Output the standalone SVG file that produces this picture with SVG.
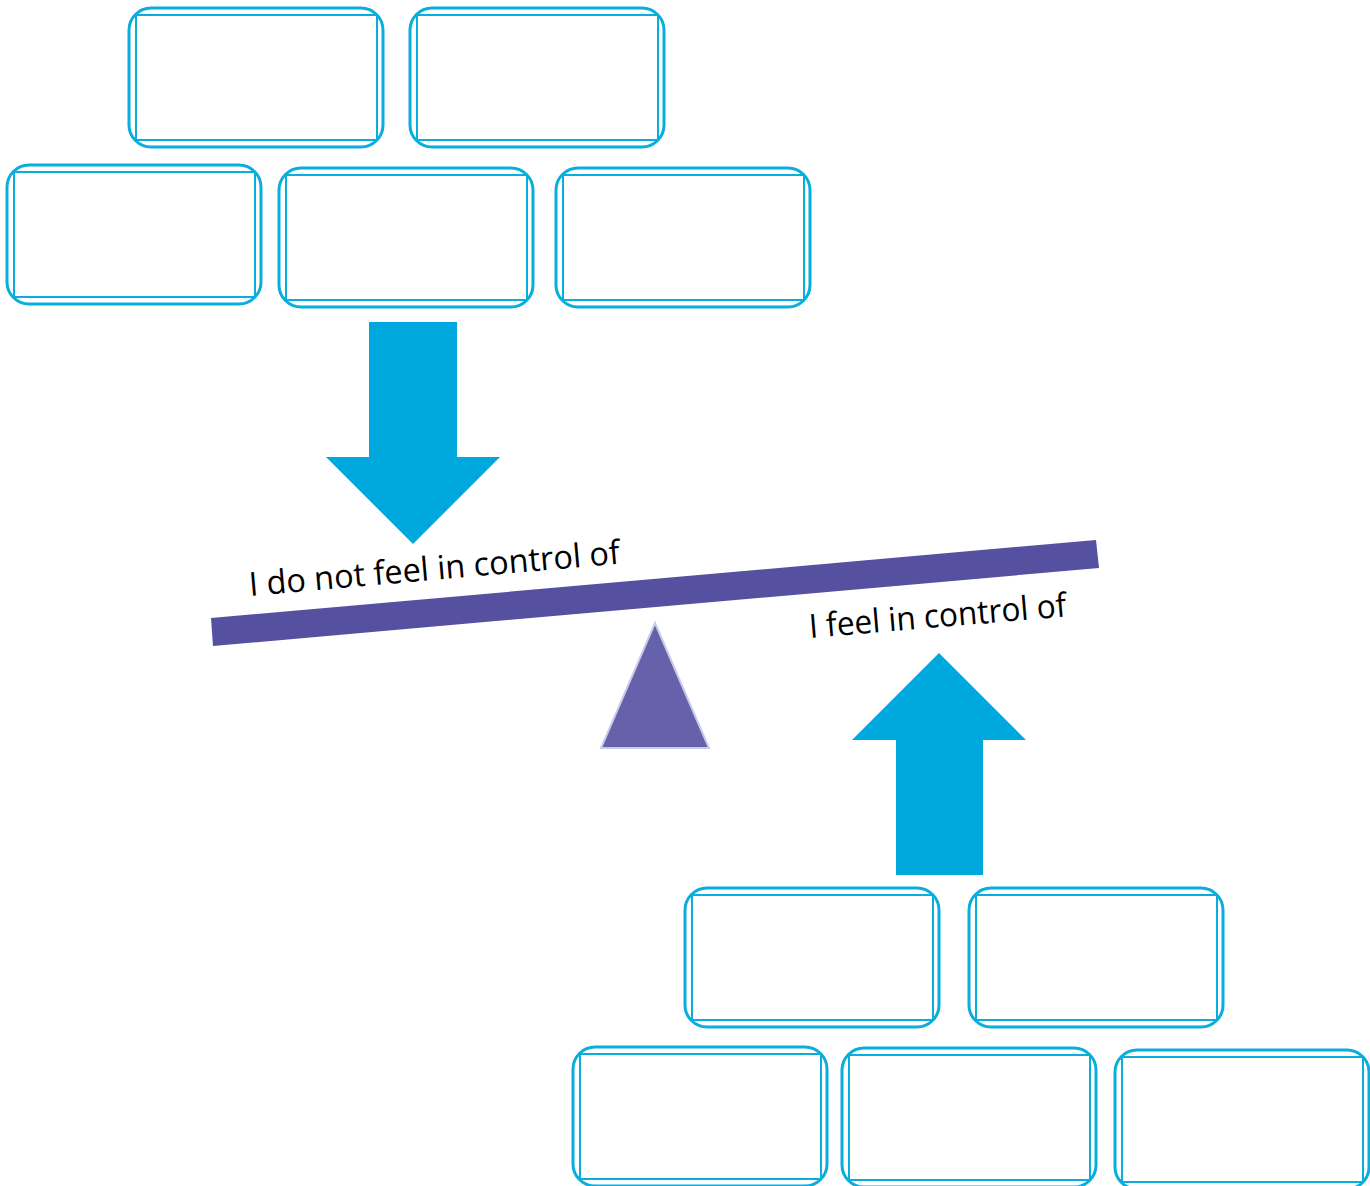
<svg xmlns="http://www.w3.org/2000/svg" width="1370" height="1186" viewBox="0 0 1370 1186">
  <style>
    .outer { fill: #ffffff; stroke: #0aaedd; stroke-width: 3; }
    .inner { fill: none; stroke: #0aaedd; stroke-width: 2; }
    .arrow { fill: #00a9dd; }
    .label { font-family: "Open Sans", "Liberation Sans", sans-serif; font-size: 33px; fill: #000000; }
  </style>
  <defs>
    <clipPath id="box-clip">
      <rect x="0" y="0" width="254" height="139" rx="22" ry="22"/>
    </clipPath>
    <!-- a double-lined box: rounded outer frame with square inner lines running to the frame -->
    <g id="box">
      <rect class="outer" x="0" y="0" width="254" height="139" rx="22" ry="22"/>
      <g clip-path="url(#box-clip)">
        <path class="inner" d="M -5 7 H 259 M -5 132 H 259 M 7 -5 V 144 M 248 -5 V 144"/>
      </g>
    </g>
  </defs>

  <!-- top group of boxes -->
  <g id="box-top-1"><use href="#box" x="129" y="8"/></g>
  <g id="box-top-2"><use href="#box" x="410" y="8"/></g>
  <g id="box-top-3"><use href="#box" x="7" y="165"/></g>
  <g id="box-top-4"><use href="#box" x="279" y="168"/></g>
  <g id="box-top-5"><use href="#box" x="556" y="168"/></g>

  <!-- bottom group of boxes -->
  <g id="box-bottom-1"><use href="#box" x="685" y="888"/></g>
  <g id="box-bottom-2"><use href="#box" x="969" y="888"/></g>
  <g id="box-bottom-3"><use href="#box" x="573" y="1047"/></g>
  <g id="box-bottom-4"><use href="#box" x="842" y="1048"/></g>
  <g id="box-bottom-5"><use href="#box" x="1115" y="1050"/></g>

  <!-- seesaw -->
  <g id="seesaw">
    <polygon id="beam" points="211,618 1096,540 1099,568 213,646" fill="#5550a0"/>
    <polygon id="fulcrum" points="655,623 709,748 601,748" fill="#6561ab" stroke="#c9cbe8" stroke-width="2"/>
  </g>

  <!-- labels on the beam -->
  <g id="label-left">
    <text class="label" x="250" y="596" transform="rotate(-5 250 596)" textLength="372" lengthAdjust="spacingAndGlyphs">I do not feel in control of</text>
  </g>
  <g id="label-right">
    <text class="label" x="810" y="638" transform="rotate(-4.8 810 638)" textLength="258" lengthAdjust="spacingAndGlyphs">I feel in control of</text>
  </g>

  <!-- block arrows -->
  <g id="connectors">
    <polygon id="arrow-down" class="arrow" points="369,322 457,322 457,457 500,457 413,544 326,457 369,457"/>
    <polygon id="arrow-up" class="arrow" points="939,653 1026,740 983,740 983,875 896,875 896,740 852,740"/>
  </g>
</svg>
